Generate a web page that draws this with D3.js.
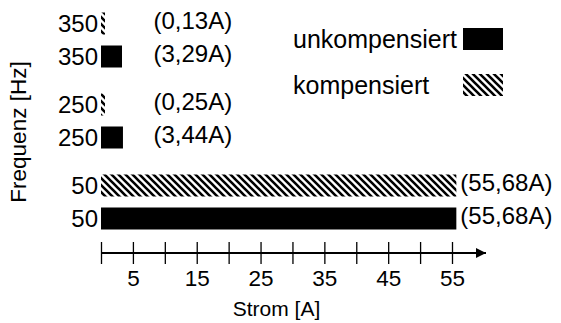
<!DOCTYPE html>
<html lang="de">
  <head>
    <meta charset="UTF-8" />
    <title>Frequenz / Strom</title>
    <script src="https://d3js.org/d3.v7.min.js"></script>
    <style>
      body {
        margin: 0;
        background: #fff;
      }
      text {
        font-family: "Liberation Sans", Arial, sans-serif;
        font-size: 21px;
        fill: #000;
      }
      .cat,
      .val {
        font-size: 24px;
      }
      .legend text {
        font-size: 25px;
      }
      .ylabel {
        font-size: 22.5px;
      }
    </style>
  </head>
  <body>
    <svg id="chart" width="561" height="323"></svg>
    <script>
      // data
      const frequencies = ["350", "250", "50"];
      const series = ["kompensiert", "unkompensiert"];
      const kompensiert = [0.13, 0.25, 55.68];
      const unkompensiert = [3.29, 3.44, 55.68];
      const tickValues = [0, 5, 10, 15, 20, 25, 30, 35, 40, 45, 50, 55];

      const svg = d3.select("#chart");

      // hatch pattern for "kompensiert"
      const defs = svg.append("defs");
      const pat = defs
        .append("pattern")
        .attr("id", "hatch")
        .attr("patternUnits", "userSpaceOnUse")
        .attr("width", 7)
        .attr("height", 7);
      pat.append("rect").attr("width", 7).attr("height", 7).attr("fill", "#fff");
      pat
        .append("path")
        .attr("d", "M-2,-2L9,9M-2,5L2,9M5,-2L9,2")
        .attr("stroke", "#000")
        .attr("stroke-width", 2.6);

      defs
        .append("marker")
        .attr("id", "arrow")
        .attr("viewBox", "0 0 10 10")
        .attr("refX", 10)
        .attr("refY", 5)
        .attr("markerUnits", "userSpaceOnUse")
        .attr("markerWidth", 15)
        .attr("markerHeight", 10)
        .attr("orient", "auto")
        .append("path")
        .attr("d", "M0,0L10,5L0,10z")
        .attr("fill", "#000");

      const x = d3.scaleLinear().domain([0, 55]).range([101, 452]);
      const yGroup = d3.scalePoint().domain(frequencies).range([40, 202]);
      const yInner = d3.scalePoint().domain(series).range([-16.5, 16.5]);
      const barH = 22;

      const rows = [];
      frequencies.forEach((f, i) => {
        rows.push({ f, s: "kompensiert", v: kompensiert[i] });
        rows.push({ f, s: "unkompensiert", v: unkompensiert[i] });
      });
      const cy = (d) => yGroup(d.f) + yInner(d.s);
      const fmt = (v) => "(" + v.toFixed(2).replace(".", ",") + "A)";

      const g = svg.append("g");
      g.selectAll("rect.bar")
        .data(rows)
        .join("rect")
        .attr("class", "bar")
        .attr("x", x(0))
        .attr("y", (d) => cy(d) - barH / 2)
        .attr("width", (d) => Math.max(x(d.v) - x(0), 4))
        .attr("height", barH)
        .attr("fill", (d) => (d.s === "kompensiert" ? "url(#hatch)" : "#000"));

      // category labels
      g.selectAll("text.cat")
        .data(rows)
        .join("text")
        .attr("class", "cat")
        .attr("x", x(0) - 3)
        .attr("y", (d) => cy(d))
        .attr("dy", "0.35em")
        .attr("text-anchor", "end")
        .text((d) => d.f);

      // value labels
      g.selectAll("text.val")
        .data(rows)
        .join("text")
        .attr("class", "val")
        .attr("x", (d) => x(Math.max(d.v, 7.6)) + 4)
        .attr("y", (d) => cy(d) - 3)
        .attr("dy", "0.35em")
        .text((d) => fmt(d.v));

      // x axis
      const axisY = 253;
      const ax = svg
        .append("g")
        .attr("transform", `translate(0,${axisY})`)
        .call(
          d3
            .axisBottom(x)
            .tickValues(tickValues)
            .tickSize(11)
            .tickPadding(6)
            .tickFormat((d) => (d % 10 === 5 ? d : ""))
        );
      ax.select(".domain").remove();
      ax.selectAll(".tick line").attr("y1", -11).attr("stroke-width", 1.3);
      ax.selectAll(".tick text")
        .style("font-size", "22.5px")
        .style("font-family", "'Liberation Sans', Arial, sans-serif");
      ax.append("line")
        .attr("x1", x(0))
        .attr("x2", 486)
        .attr("stroke", "#000")
        .attr("stroke-width", 2)
        .attr("marker-end", "url(#arrow)");

      svg
        .append("text")
        .attr("x", x(27.5))
        .attr("y", 316)
        .attr("text-anchor", "middle")
        .text("Strom [A]");

      svg
        .append("text")
        .attr("class", "ylabel")
        .attr("transform", "translate(26,132) rotate(-90)")
        .attr("text-anchor", "middle")
        .text("Frequenz [Hz]");

      // legend
      const legend = svg.append("g").attr("class", "legend");
      const legendItems = [
        { label: "unkompensiert", fill: "#000", y: 39 },
        { label: "kompensiert", fill: "url(#hatch)", y: 85 },
      ];
      legendItems.forEach((d) => {
        legend
          .append("text")
          .attr("x", 293)
          .attr("y", d.y)
          .attr("dy", "0.35em")
          .text(d.label);
        legend
          .append("rect")
          .attr("x", 463)
          .attr("y", d.y - 11)
          .attr("width", 40)
          .attr("height", 22)
          .attr("fill", d.fill);
      });
    </script>
  </body>
</html>
